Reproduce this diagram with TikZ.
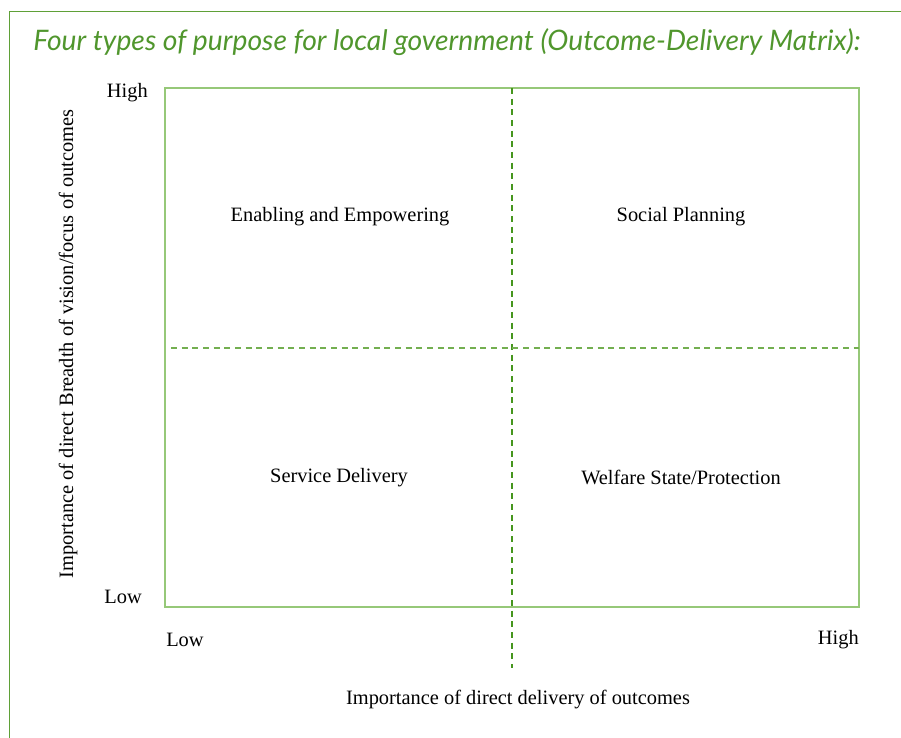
\documentclass[tikz,border=0pt]{standalone}
\usepackage{fontspec}
\setmainfont{Liberation Serif}
\newfontfamily\headfont{Lato}
\usepackage{xcolor}
\usetikzlibrary{positioning}

\definecolor{leafgreen}{RGB}{80,150,45}
\definecolor{framegreen}{RGB}{95,160,55}
\definecolor{palegreen}{RGB}{150,200,120}
\definecolor{dashgreen}{RGB}{70,150,30}
\definecolor{softdash}{RGB}{115,175,80}

\begin{document}
\begin{tikzpicture}[
    x=0.75pt, y=-0.75pt,
    % frame and grid styles
    frame/.style={draw=framegreen, line width=1.1pt},
    matrixbox/.style={draw=palegreen, line width=1.1pt},
    divider/.style={line width=0.8pt, dash pattern=on 4.5pt off 3.5pt},
    % text styles
    heading/.style={font=\headfont\itshape\fontsize{21.2}{25}\selectfont, text=leafgreen, anchor=base west, inner sep=0pt},
    quadrant/.style={font=\fontsize{15.3}{18}\selectfont, text centered},
    tick/.style={font=\fontsize{15.3}{18}\selectfont, inner sep=0pt},
    axis/.style={font=\fontsize{15.3}{18}\selectfont}
]
    \useasboundingbox (0,0) rectangle (901,738);

    % outer frame (open at right and bottom)
    \draw[frame] (9.5,738) -- (9.5,11.5) -- (901,11.5);

    \node[heading] (title) at (33,51) {Four types of purpose for local government (Outcome-Delivery Matrix):};

    % corners of the matrix
    \coordinate (nw) at (165,88);
    \coordinate (se) at (859,607);
    \coordinate (midtop) at (512,88);
    \coordinate (midbot) at (512,668);
    \coordinate (midleft) at (171,348);
    \coordinate (midright) at (859,348);

    \draw[matrixbox] (nw) rectangle (se);
    \draw[divider, draw=dashgreen] (midtop) -- (midbot);
    \draw[divider, draw=softdash] (midleft) -- (midright);

    % quadrants
    \node[quadrant] (enabling) at (340,217) {Enabling and Empowering};
    \node[quadrant] (social) at (681,217) {Social Planning};
    \node[quadrant] (service) at (339,478) {Service Delivery};
    \node[quadrant] (welfare) at (681,477) {Welfare State/Protection};

    % axis ends
    \node[tick, anchor=east] (yhigh) at (148,93) {High};
    \node[tick, anchor=east] (ylow) at (142,597) {Low};
    \node[tick, anchor=west] (xlow) at (166,640) {Low};
    \node[tick, anchor=east] (xhigh) at (859,640) {High};

    % axis titles
    \node[axis, rotate=90] (ytitle) at (68,344) {Importance of direct Breadth of vision/focus of outcomes};
    \node[axis] (xtitle) at (518,700) {Importance of direct delivery of outcomes};
\end{tikzpicture}
\end{document}
